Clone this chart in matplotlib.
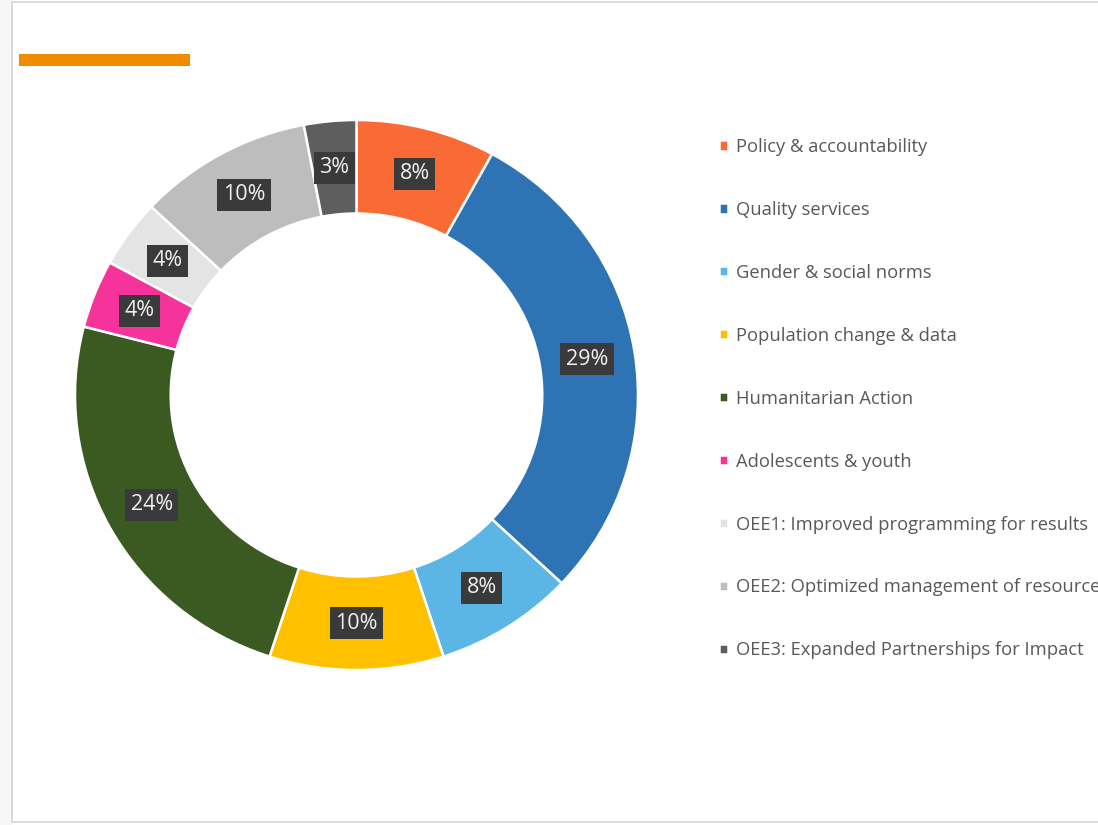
import matplotlib.pyplot as plt
from matplotlib.patches import Rectangle

categories = [
    "Policy & accountability",
    "Quality services",
    "Gender & social norms",
    "Population change & data",
    "Humanitarian Action",
    "Adolescents & youth",
    "OEE1: Improved programming for results",
    "OEE2: Optimized management of resources",
    "OEE3: Expanded Partnerships for Impact",
]
shares = [8, 29, 8, 10, 24, 4, 4, 10, 3]
colors = ["#FA6A35", "#2E74B5", "#5BB5E5", "#FFC000", "#3A5A22",
          "#F5339A", "#E4E4E4", "#BDBDBD", "#5E5E5E"]

W, H = 1098, 825
fig = plt.figure(figsize=(W / 100, H / 100), dpi=100)
plt.rcParams["font.family"] = ["Open Sans", "DejaVu Sans"]

# page frame
fig.patches.append(Rectangle((0, 0), 12 / W, 1, transform=fig.transFigure,
                             facecolor="#f7f7f7", edgecolor="none", zorder=0))
fig.add_artist(plt.Line2D([12 / W, 12 / W], [3 / H, 1 - 2 / H], color="#d4d4d4", lw=1.2))
fig.add_artist(plt.Line2D([12 / W, 1], [1 - 2 / H, 1 - 2 / H], color="#d4d4d4", lw=1.2))
fig.add_artist(plt.Line2D([12 / W, 1], [3 / H, 3 / H], color="#d4d4d4", lw=1.2))
fig.patches.append(Rectangle((19 / W, 1 - 66 / H), 171 / W, 12 / H, transform=fig.transFigure,
                             facecolor="#F08C00", edgecolor="none"))

# donut (slightly wider than tall, as in the screenshot)
left, right, top, bottom = 75, 638, 120, 670
ax = fig.add_axes([left / W, (H - bottom) / H, (right - left) / W, (bottom - top) / H])
inner = 0.66
wedges, _, pcts = ax.pie(
    shares, colors=colors, startangle=90, counterclock=False,
    autopct="%1.0f%%", pctdistance=(1 + inner) / 2,
    wedgeprops=dict(width=1 - inner, edgecolor="white", linewidth=1.8),
    textprops=dict(color="#f0f0f0", fontsize=15.5),
)
for t in pcts:
    t.set_bbox(dict(facecolor="#3a3a3a", edgecolor="none", pad=4))
ax.set_xlim(-1, 1)
ax.set_ylim(-1, 1)
ax.set_aspect("auto")
ax.axis("off")

fig.legend(
    wedges, categories, loc="upper left",
    bbox_to_anchor=(719 / W, 1 - 138 / H), frameon=False,
    fontsize=13.2, labelcolor="#595959",
    handlelength=0.48, handleheight=0.48, handletextpad=0.45,
    labelspacing=2.45, borderpad=0, borderaxespad=0,
)

fig.savefig("out.png", dpi=100, facecolor="white")
